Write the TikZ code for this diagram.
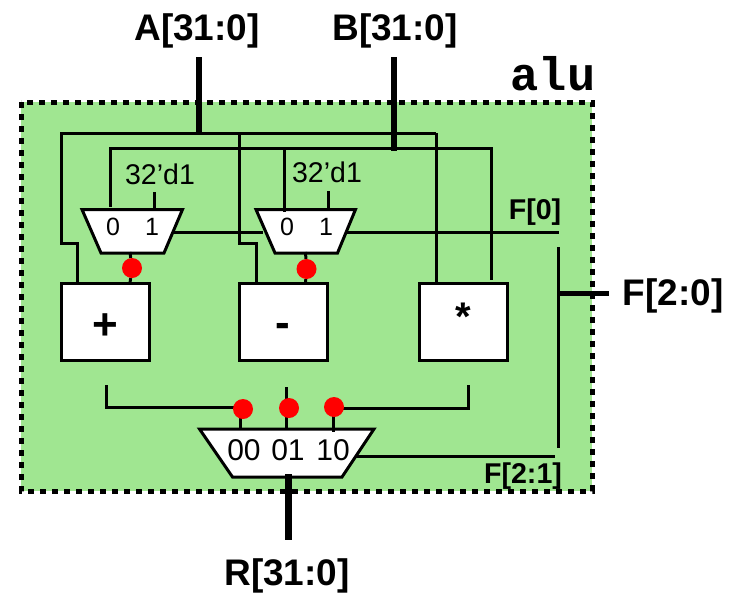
\documentclass[tikz,border=0pt]{standalone}
\usepackage{fontspec}
\setmainfont{Liberation Sans}
\setmonofont{Liberation Mono}
\definecolor{alugreen}{RGB}{160,230,145}
\tikzset{
  wire/.style={draw=black,line width=3pt},
  bus/.style={draw=black,line width=5.5pt},
  unitbox/.style={draw=black,fill=white,line width=3pt,minimum width=88pt,minimum height=77pt,inner sep=0pt},
  muxshape/.style={draw=black,fill=white,line width=3pt,line join=miter},
  dot/.style={circle,fill=red,minimum size=20pt,inner sep=0pt},
  biglabel/.style={font=\fontsize{37}{40}\selectfont\bfseries,inner sep=0pt},
  oplabel/.style={font=\fontsize{44}{48}\selectfont\bfseries,inner sep=0pt},
  smalllabel/.style={font=\fontsize{28.6}{32}\selectfont\bfseries,inner sep=0pt},
  txt/.style={font=\fontsize{28.5}{32}\selectfont,inner sep=0pt},
  sel/.style={font=\fontsize{25}{28}\selectfont,inner sep=0pt},
  bigsel/.style={font=\fontsize{30}{32}\selectfont,inner sep=0pt}
}
\begin{document}
\begin{tikzpicture}[x=1pt,y=-1pt]
    \useasboundingbox (0,0) rectangle (733,592);
    \draw[fill=alugreen,line width=5pt,dash pattern=on 6pt off 6pt] (21,102) rectangle (592,491);

    % buses and their branches
    \coordinate (Atop) at (199,57);
    \coordinate (Ajoin) at (199,135);
    \coordinate (Abend) at (61,133);
    \coordinate (Abend2) at (61,243);
    \coordinate (Abend3) at (77,243);
    \coordinate (Asub) at (239,133);
    \coordinate (Asub2) at (239,243);
    \coordinate (Asub3) at (256,243);
    \coordinate (Amul) at (436,133);
    \coordinate (Btop) at (394,57);
    \coordinate (Bjoin) at (394,151);
    \coordinate (Bleft) at (110,148);
    \coordinate (Bsub) at (284,148);
    \coordinate (Bright) at (491,148);
    \coordinate (plusin) at (77,283);
    \coordinate (subin) at (256,283);
    \coordinate (mulinA) at (436,283);
    \coordinate (mulinB) at (491,280);
    \coordinate (muxAin) at (110,207);
    \coordinate (muxBin) at (284,212);
    \draw[wire] (Amul) -- (Abend) -- (Abend2) -- (Abend3) -- (plusin);
    \draw[wire] (Asub) -- (Asub2) -- (Asub3) -- (subin);
    \draw[wire] (Amul) -- (mulinA);
    \draw[wire] (muxAin) -- (Bleft) -- (Bright) -- (mulinB);
    \draw[bus] (Atop) -- (Ajoin);
    \draw[bus] (Btop) -- (Bjoin);

    % control lines
    \coordinate (f0end) at (559,232);
    \coordinate (muxAout) at (173,232);
    \coordinate (muxBctl) at (263,232);
    \coordinate (muxBout) at (346,232);
    \draw[wire] (muxAout) -- (muxBctl);
    \draw[wire] (muxBout) -- (f0end);
    \coordinate (ftop) at (558,247);
    \coordinate (fbot) at (558,448);
    \coordinate (fmid) at (558,293);
    \coordinate (fout) at (609,293);
    \draw[wire] (ftop) -- (fbot);
    \draw[bus,line width=5pt] (fmid) -- (fout);
    \coordinate (f21in) at (353,456);
    \coordinate (f21end) at (555,456);
    \draw[wire] (f21in) -- (f21end);

    \draw[muxshape] (82,209.5) -- (182.5,209.5) -- (164,253) -- (101,253) -- cycle;
    \draw[muxshape] (256,209.5) -- (355.5,209.5) -- (337.5,253) -- (275,253) -- cycle;
    \draw[muxshape] (199.5,429) -- (374,429) -- (342,477) -- (232.5,477) -- cycle;
    \draw[wire] (Bsub) -- (muxBin);
    \node[sel] (muxA0) at (113,227) {0};
    \node[sel] (muxA1) at (152,227) {1};
    \node[sel] (muxB0) at (287,227) {0};
    \node[sel] (muxB1) at (326,227) {1};
    \node[txt] (const1) at (160,174) {32’d1};
    \node[txt] (const2) at (327,172) {32’d1};
    \coordinate (const1a) at (154,192);
    \coordinate (const1b) at (154,209);
    \coordinate (const2a) at (328,191);
    \coordinate (const2b) at (328,209);
    \draw[wire] (const1a) -- (const1b);
    \draw[wire] (const2a) -- (const2b);

    \node[unitbox] (plus) at (105,321.5) {};
    \node[unitbox] (minus) at (283,321.5) {};
    \node[unitbox] (mul) at (463,321.5) {};
    \node[oplabel] (plustxt) at (105,327) {+};
    \node[oplabel] (minustxt) at (283,330) {-};
    \node[oplabel,font=\fontsize{40}{44}\selectfont\bfseries] (multxt) at (463,317) {*};

    % selects on the small muxes
    \node[dot] (dotA) at (132,268) {};
    \node[dot] (dotB) at (306.5,269) {};
    \coordinate (dotAa) at (130,252);
    \coordinate (dotAb) at (130,283);
    \coordinate (dotBa) at (305.5,252);
    \coordinate (dotBb) at (305.5,283);
    \draw[wire] (dotAa) -- (dotA);
    \draw[wire] (dotA) -- (dotAb);
    \draw[wire] (dotBa) -- (dotB);
    \draw[wire] (dotB) -- (dotBb);

    % outputs into the result mux
    \coordinate (pluslow) at (106,385);
    \coordinate (plusbend) at (106,407);
    \coordinate (minuslow) at (286.5,387);
    \coordinate (mullow) at (468,385);
    \coordinate (mulbend) at (468,408);
    \coordinate (inA) at (240,430);
    \coordinate (inB) at (286.5,430);
    \coordinate (inC) at (333,432);
    \draw[wire] (pluslow) -- (plusbend) -- (inA |- plusbend);
    \draw[wire] (minuslow) -- (inB);
    \draw[wire] (mullow) -- (mulbend) -- (inC |- mulbend);
    \draw[wire] (inA |- plusbend) -- (inA);
    \draw[wire] (inC |- mulbend) -- (inC);
    \node[dot] (dotC) at (243,409) {};
    \node[dot] (dotD) at (289,408) {};
    \node[dot] (dotE) at (334,407) {};
    \node[bigsel] (sel00) at (244,450) {00};
    \node[bigsel] (sel01) at (288,450) {01};
    \node[bigsel] (sel10) at (333,450) {10};

    \coordinate (Rin) at (288.5,474);
    \coordinate (Rout) at (288.5,540);
    \draw[bus,line width=6.5pt] (Rin) -- (Rout);

    \node[biglabel] (Alabel) at (197,31) {A[31:0]};
    \node[biglabel] (Blabel) at (395,31) {B[31:0]};
    \node[biglabel] (Rlabel) at (287,576) {R[31:0]};
    \node[biglabel] (Flabel) at (673,296) {F[2:0]};
    \node[font=\fontsize{47}{50}\selectfont\ttfamily\bfseries,inner sep=0pt] (alu) at (553,74) {alu};
    \node[smalllabel] (f0) at (535,212) {F[0]};
    \node[smalllabel] (f21) at (523,476) {F[2:1]};
\end{tikzpicture}
\end{document}
